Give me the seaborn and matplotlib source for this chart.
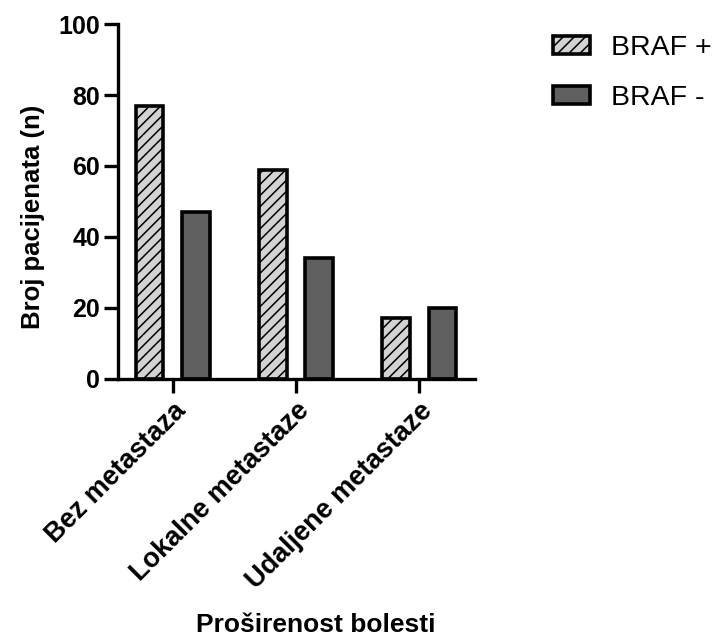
import matplotlib
matplotlib.use("Agg")
import matplotlib.pyplot as plt
from matplotlib.patches import Patch
import seaborn as sns
import pandas as pd

categories = ["Bez metastaza", "Lokalne metastaze", "Udaljene metastaze"]
groups = ["BRAF +", "BRAF -"]
braf_pos = [77, 59, 17]
braf_neg = [47, 34, 20]

df = pd.DataFrame({
    "kategorija": categories * 2,
    "grupa": [groups[0]] * 3 + [groups[1]] * 3,
    "broj": braf_pos + braf_neg,
})

sns.set_theme(style="ticks")
plt.rcParams["font.family"] = ["Liberation Sans", "DejaVu Sans"]
plt.rcParams["text.color"] = "black"
plt.rcParams["axes.labelcolor"] = "black"
plt.rcParams["xtick.color"] = "black"
plt.rcParams["ytick.color"] = "black"
plt.rcParams["hatch.linewidth"] = 1.1

colors = {"BRAF +": "#d3d3d3", "BRAF -": "#5f5f5f"}

fig = plt.figure(figsize=(7.2, 6.41), dpi=100)
ax = fig.add_axes([0.1643, 0.4095, 0.4954, 0.5526])

sns.barplot(data=df, x="kategorija", y="broj", hue="grupa", order=categories,
            hue_order=groups, palette=colors, width=0.75, gap=0.4,
            edgecolor="black", linewidth=2.6, legend=False, ax=ax)

for p in ax.containers[0]:
    p.set_hatch("///")

ax.set_ylim(0, 100)
ax.set_xlim(-0.441, 2.452)
ax.set_yticks([0, 20, 40, 60, 80, 100])
for s in ["top", "right"]:
    ax.spines[s].set_visible(False)
for s in ["left", "bottom"]:
    ax.spines[s].set_linewidth(2.4)
    ax.spines[s].set_color("black")
ax.tick_params(axis="both", length=10, width=2.4, color="black", direction="out")
ax.tick_params(axis="y", labelsize=18, pad=3)
ax.tick_params(axis="x", labelsize=19.5, pad=4)
for lab in ax.get_yticklabels():
    lab.set_fontweight("bold")
for lab in ax.get_xticklabels():
    lab.set_fontweight("bold")
    lab.set_rotation(45)
    lab.set_ha("right")
    lab.set_rotation_mode("anchor")

ax.set_ylabel("Broj pacijenata (n)", fontsize=18.5, fontweight="bold")
ax.yaxis.set_label_coords(-0.205, 0.455)
ax.set_xlabel("")
fig.text(0.438, 1 - 625 / 641, "Proširenost bolesti", fontsize=19, fontweight="bold",
         ha="center", va="center")

handles = [Patch(facecolor=colors[g], edgecolor="black", linewidth=2.6,
                 hatch="///" if g == "BRAF +" else None, label=g) for g in groups]
fig.legend(handles=handles, loc="upper left", bbox_to_anchor=(553 / 720, 1 - 35 / 641),
           frameon=False, fontsize=20.5, handlelength=1.3, handleheight=0.6,
           handletextpad=0.75, labelspacing=0.85, borderpad=0, borderaxespad=0)

fig.savefig("out.png", dpi=100, facecolor="white")
